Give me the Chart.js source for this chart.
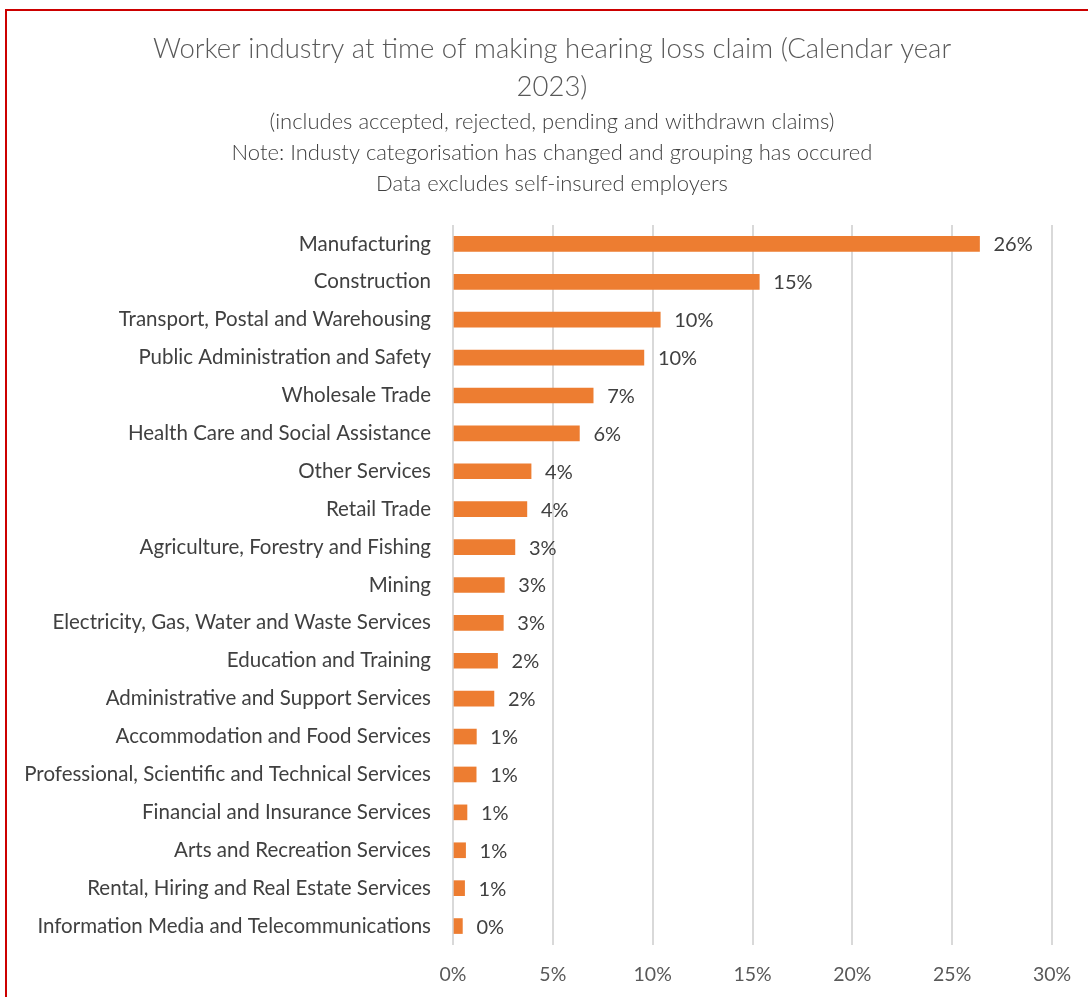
<!DOCTYPE html>
<html>
<head>
<meta charset="utf-8">
<script src="https://cdn.jsdelivr.net/npm/chart.js@4.4.1/dist/chart.umd.min.js"></script>
<style>
  html, body { margin: 0; padding: 0; background: #fff; overflow: hidden; }
  #wrap { position: relative; width: 1088px; height: 997px; }
  #frame { position: absolute; left: 5px; top: 9px; width: 1200px; height: 1100px; border: 2px solid #CC0000; box-sizing: border-box; pointer-events: none; }
  canvas { position: absolute; left: 0; top: 0; }
</style>
</head>
<body>
<div id="wrap">
  <canvas id="c" width="1088" height="997"></canvas>
  <div id="frame"></div>
</div>
<script>
const titleLines = ["Worker industry at time of making hearing loss claim (Calendar year", "2023)"];
const subtitleLines = [
  "(includes accepted, rejected, pending and withdrawn claims)",
  "Note: Industy categorisation has changed and grouping has occured",
  "Data excludes self-insured employers"
];
const categories = [
  "Manufacturing",
  "Construction",
  "Transport, Postal and Warehousing",
  "Public Administration and Safety",
  "Wholesale Trade",
  "Health Care and Social Assistance",
  "Other Services",
  "Retail Trade",
  "Agriculture, Forestry and Fishing",
  "Mining",
  "Electricity, Gas, Water and Waste Services",
  "Education and Training",
  "Administrative and Support Services",
  "Accommodation and Food Services",
  "Professional, Scientific and Technical Services",
  "Financial and Insurance Services",
  "Arts and Recreation Services",
  "Rental, Hiring and Real Estate Services",
  "Information Media and Telecommunications"
];
const shares = [26.37, 15.34, 10.38, 9.56, 7.02, 6.33, 3.91, 3.70, 3.10, 2.57, 2.52, 2.23, 2.05, 1.17, 1.16, 0.70, 0.63, 0.58, 0.47];
const xTicks = [0, 5, 10, 15, 20, 25, 30];

const FONT = "Lato, 'Open Sans', sans-serif";

const valueLabels = {
  id: 'valueLabels',
  afterDatasetsDraw(chart) {
    const ctx = chart.ctx;
    const meta = chart.getDatasetMeta(0);
    ctx.save();
    ctx.font = "20px " + FONT;
    ctx.fillStyle = "#404040";
    ctx.textAlign = "left";
    ctx.textBaseline = "middle";
    meta.data.forEach((bar, i) => {
      ctx.fillText(Math.round(shares[i]) + "%", bar.x + 14, bar.y + 1);
    });
    ctx.restore();
  }
};

new Chart(document.getElementById('c'), {
  type: 'bar',
  data: {
    labels: categories,
    datasets: [{
      data: shares,
      backgroundColor: '#ED7D31',
      borderWidth: 0,
      barThickness: 15
    }]
  },
  options: {
    indexAxis: 'y',
    responsive: false,
    animation: false,
    events: [],
    layout: { padding: { left: 16, right: 0, top: 0, bottom: 12 } },
    plugins: {
      legend: { display: false },
      tooltip: { enabled: false },
      title: {
        display: true,
        text: titleLines,
        color: '#595959',
        font: { family: FONT, size: 27.5, weight: '300', lineHeight: 1.38 },
        padding: { top: 30, bottom: 0 }
      },
      subtitle: {
        display: true,
        text: subtitleLines,
        color: '#404040',
        font: { family: FONT, size: 22, weight: '300', lineHeight: 1.41 },
        padding: { top: 0, bottom: 26 }
      }
    },
    scales: {
      x: {
        min: 0,
        max: 30,
        afterBuildTicks(scale) { scale.ticks = xTicks.map(v => ({ value: v })); },
        afterFit(scale) { scale.paddingRight = 36; scale.height = 40; },
        grid: { color: '#D9D9D9', lineWidth: 2, drawTicks: false },
        border: { display: false },
        ticks: {
          padding: 18,
          color: '#595959',
          font: { family: FONT, size: 19.5 },
          callback: v => v + '%'
        }
      },
      y: {
        afterFit(scale) { scale.width = 437; },
        grid: { display: false, drawTicks: false },
        border: { display: false },
        ticks: {
          padding: 22,
          color: '#404040',
          font: { family: FONT, size: 20.5 },
          autoSkip: false
        }
      }
    }
  },
  plugins: [valueLabels]
});
</script>
</body>
</html>
